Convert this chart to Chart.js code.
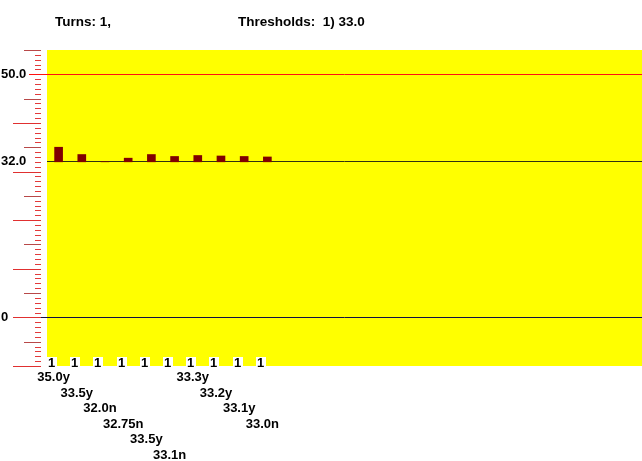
<!DOCTYPE html>
<html><head><meta charset="utf-8">
<script src="https://cdn.jsdelivr.net/npm/chart.js@4/dist/chart.umd.min.js"></script>
<style>html,body{margin:0;padding:0;background:#fff;}canvas{display:block;}</style>
</head><body>
<canvas id="c" width="642" height="461"></canvas>
<script>
// ---- data ----
const turnLabels = ['1','1','1','1','1','1','1','1','1','1'];
const values = [35.0, 33.5, 32.0, 32.75, 33.5, 33.1, 33.3, 33.2, 33.1, 33.0];
const valueLabels = ['35.0y','33.5y','32.0n','32.75n','33.5y','33.1n','33.3y','33.2y','33.1y','33.0n'];
const baseValue = 32.0;
const yTickValues = [0, 32, 50];
const yTickLabels = ['0', '32.0', '50.0'];
const titleTurns = 'Turns: 1,';
const titleThresholds = 'Thresholds:  1) 33.0';

const FONT = '"Liberation Sans", Arial, sans-serif';
const labelRows = 6;

const bgPlugin = {
  id: 'bg',
  beforeDraw(chart) {
    const {ctx, chartArea: a} = chart;
    ctx.save();
    ctx.fillStyle = '#ffffff';
    ctx.fillRect(0, 0, chart.width, chart.height);
    ctx.fillStyle = '#ffff00';
    ctx.fillRect(a.left, a.top, a.right - a.left, a.bottom - a.top);
    ctx.restore();
  },
  afterDraw(chart) {
    const {ctx, chartArea: a} = chart;
    const ys = chart.scales.y, xs = chart.scales.x;
    ctx.save();
    // left tick marks
    for (let v = Math.ceil(ys.min); v <= Math.floor(ys.max); v++) {
      const py = Math.round(ys.getPixelForValue(v)) + 0.5;
      let x0 = 35, col = '#e23a3a';
      if (v === 50) { x0 = 29; col = '#ff1010'; }
      else if (v % 10 === 0) { x0 = 13; col = '#e03030'; }
      else if (v % 5 === 0) { x0 = 24; col = '#b84848'; }
      ctx.strokeStyle = col;
      ctx.lineWidth = 1;
      ctx.beginPath();
      ctx.moveTo(x0, py);
      ctx.lineTo(v === 50 ? a.left : 41, py);
      ctx.stroke();
      if (v === 0) {
        ctx.strokeStyle = '#101040';
        ctx.beginPath(); ctx.moveTo(41, py); ctx.lineTo(a.left, py); ctx.stroke();
      }
    }
    // turn labels with white notches
    ctx.font = 'bold 13px ' + FONT;
    ctx.textBaseline = 'alphabetic';
    ctx.textAlign = 'left';
    turnLabels.forEach((t, i) => {
      const x0 = Math.round(xs.getPixelForValue(i - 0.5));
      ctx.fillStyle = '#ffffff';
      ctx.fillRect(x0, a.bottom - 9, 10, 10);
      ctx.fillStyle = '#000000';
      ctx.fillText(t, x0 + 1, a.bottom + 1);
    });
    // header
    ctx.font = 'bold 13.5px ' + FONT;
    ctx.fillStyle = '#000000';
    ctx.fillText(titleTurns, 55, 26);
    ctx.fillText(titleThresholds, 238, 26);
    ctx.restore();
  }
};

new Chart(document.getElementById('c'), {
  type: 'bar',
  data: {
    datasets: [{
      data: values.map((v, i) => ({x: i, y: [baseValue, v]})),
      backgroundColor: '#800000',
      borderWidth: 0,
      barThickness: 8
    }]
  },
  options: {
    responsive: false,
    animation: false,
    layout: {padding: {top: 50, left: 1, right: 0, bottom: 0}},
    plugins: {legend: {display: false}, tooltip: {enabled: false}, title: {display: false}},
    scales: {
      x: {
        type: 'linear',
        offset: false,
        min: -0.5,
        max: 25.15,
        grid: {display: false, drawTicks: false, offset: false},
        border: {display: false},
        afterBuildTicks(scale) { scale.ticks = valueLabels.map((_, i) => ({value: i})); },
        afterFit(scale) { scale.height = 95; },
        ticks: {
          autoSkip: false,
          maxRotation: 0,
          minRotation: 0,
          padding: 4,
          labelOffset: -5,
          color: '#000000',
          font: {family: FONT, size: 13, weight: 'bold', lineHeight: 15.5 / 13},
          callback(value) {
            const i = Math.round(value);
            const row = i % labelRows;
            return Array(row).fill('').concat([valueLabels[i]]);
          }
        }
      },
      y: {
        min: -10,
        max: 55,
        grid: {
          drawTicks: false,
          color(ctx) {
            const v = ctx.tick && ctx.tick.value;
            if (v === 50) return '#ff1010';
            if (v === 32) return '#303010';
            return '#101040';
          },
          lineWidth: 1
        },
        border: {display: false},
        afterBuildTicks(scale) { scale.ticks = yTickValues.map(v => ({value: v})); },
        afterFit(scale) { scale.width = 46; },
        ticks: {
          crossAlign: 'far',
          padding: 0,
          color: '#000000',
          font: {family: FONT, size: 13, weight: 'bold'},
          callback(value) {
            const k = yTickValues.indexOf(value);
            return k >= 0 ? yTickLabels[k] : '';
          }
        }
      }
    }
  },
  plugins: [bgPlugin]
});
</script>
</body></html>
